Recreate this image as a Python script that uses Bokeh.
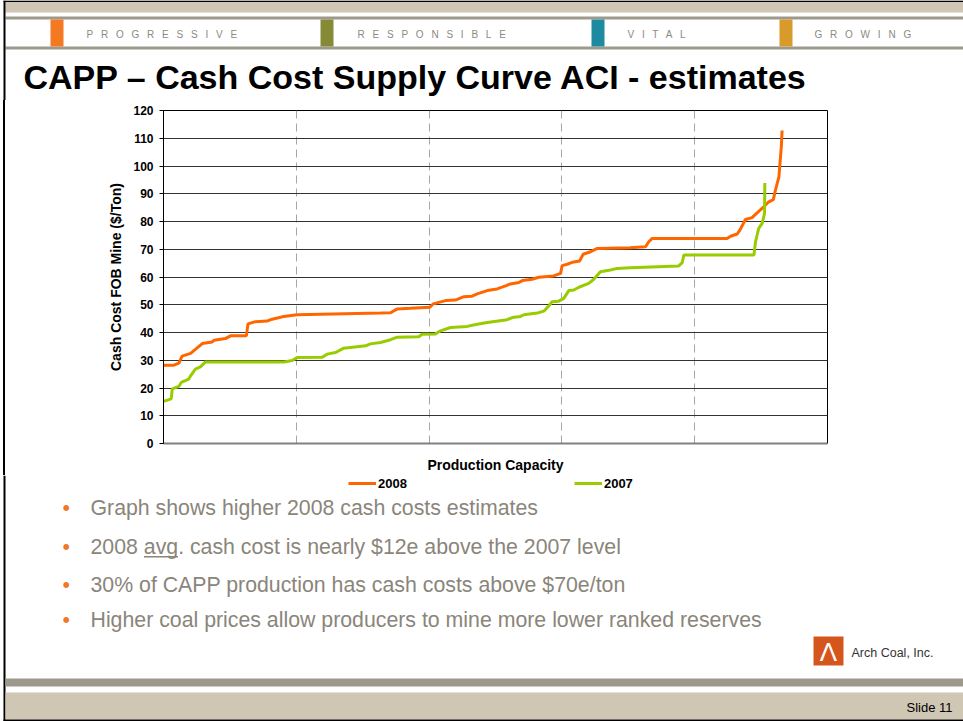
from bokeh.plotting import figure
from bokeh.layouts import column
from bokeh.models import Legend, LegendItem, FixedTicker, Range1d
from bokeh.core.properties import value
from bokeh.embed import file_html
from bokeh.resources import INLINE

# ---------------- data ----------------
x_2008 = [0, 3.9, 5.8, 7.0, 10.2, 12.0, 14.6, 18.3, 19.0, 23.3, 25.2, 31.2, 31.8, 34.6, 39.0,
          40.9, 44.1, 45.3, 50.3, 81.7, 85.5, 88.0, 93.0, 100.3, 101.5, 106.2, 109.9, 113.1,
          116.2, 118.1, 121.9, 125.6, 128.8, 130.6, 133.8, 135.1, 138.8, 141.3, 146.9, 149.5,
          150.1, 152.0, 153.9, 156.7, 158.0, 160.8, 163.3, 175.6, 181.5, 182.7, 184.0, 212.2,
          213.5, 216.0, 217.0, 219.1, 221.6, 223.5, 226.0, 227.9, 229.6, 230.4, 231.7, 232.0,
          232.6, 232.9]
y_2008 = [28.2, 28.2, 29.0, 31.5, 32.5, 33.9, 36.0, 36.6, 37.2, 37.8, 38.8, 38.8, 43.1, 43.9, 44.1,
          44.8, 45.5, 45.8, 46.4, 47.0, 47.1, 48.5, 48.7, 49.1, 50.3, 51.5, 51.7, 52.9,
          53.1, 53.9, 55.1, 55.7, 56.8, 57.5, 58.0, 58.7, 59.2, 59.9, 60.4, 61.3,
          64.1, 64.6, 65.3, 65.8, 68.2, 69.1, 70.3, 70.5, 70.9, 72.7, 73.9, 73.9,
          74.7, 75.5, 76.9, 80.7, 81.4, 83.1, 85.3, 87.1, 87.9, 91.3, 96.1, 99.7,
          106.8, 112.8]
x_2007 = [0, 2.9, 3.3, 5.8, 6.7, 9.5, 10.2, 12.0, 13.9, 15.8, 45.3, 48.5, 50.3, 59.8, 61.6,
          64.8, 67.7, 70.4, 76.1, 77.9, 81.7, 85.5, 88.0, 96.1, 97.4, 102.4, 104.3, 108.1,
          114.3, 118.1, 121.9, 129.4, 131.3, 134.4, 135.7, 140.7, 143.4, 145.1, 146.3, 148.8,
          150.7, 152.6, 154.5, 156.4, 160.1, 162.0, 164.5, 168.3, 170.8, 175.8, 194.0, 195.3,
          195.9, 222.3, 222.9, 224.1, 225.4, 226.3, 226.4]
y_2007 = [15.2, 16.1, 19.7, 20.6, 22.0, 23.2, 24.4, 26.8, 27.6, 29.4, 29.4, 29.9, 31.0, 31.1, 32.2,
          32.8, 34.3, 34.6, 35.2, 35.9, 36.4, 37.4, 38.3, 38.5, 39.4, 39.5, 40.6, 41.8,
          42.2, 43.0, 43.6, 44.6, 45.4, 45.8, 46.4, 47.0, 47.8, 49.6, 51.1, 51.3,
          52.3, 55.1, 55.3, 56.3, 57.7, 59.2, 61.9, 62.5, 63.1, 63.3, 64.0, 65.2,
          67.9, 67.9, 72.7, 77.5, 79.3, 82.9, 93.9]
series_labels = ["2008", "2007"]
series_colors = ["#FF6600", "#99CC00"]
y_ticks = [0, 10, 20, 30, 40, 50, 60, 70, 80, 90, 100, 110, 120]
x_grid_ticks = [50, 100, 150, 200]
x_max = 250
y_max = 120

slide_title = "CAPP \u2013 Cash Cost Supply Curve ACI - estimates"
y_title = "Cash Cost FOB Mine ($/Ton)"
x_title = "Production Capacity"
header_words = ["PROGRESSIVE", "RESPONSIBLE", "VITAL", "GROWING"]
bullets = [
    "Graph shows higher 2008 cash costs estimates",
    "2008 avg. cash cost is nearly $12e above the 2007 level",
    "30% of CAPP production has cash costs above $70e/ton",
    "Higher coal prices allow producers to mine more lower ranked reserves",
]
company = "Arch Coal, Inc."
slide_no = "Slide 11"

# ---------------- layout (reference pixel coords) ----------------
W, H = 963, 721
TOP_H = 100          # header strip: y 0..100
CHART_B = 475        # chart strip: y 100..475, footer: 475..721
FL, FT, FR, FB = 163, 110, 827, 444
FONT = "Liberation Sans"
TAN = "#CFC6B4"
GREY = "#9D9A8D"
BORDER = "#000000"
BX0, BX1 = 3, 5      # left black border


def deco_fig(w, h, y0):
    f = figure(width=w, height=h, output_backend="svg", toolbar_location=None,
               x_range=Range1d(0, w), y_range=Range1d(y0 + h, y0),
               x_axis_location=None, y_axis_location=None,
               min_border=0, min_border_left=0, min_border_right=0,
               min_border_top=0, min_border_bottom=0)
    f.frame_align = False
    f.grid.visible = False
    f.outline_line_color = None
    f.background_fill_color = "white"
    f.border_fill_color = "white"
    return f


def rect(f, l, t, r, b, color):
    f.quad(left=[l], right=[r], top=[t], bottom=[b], fill_color=color, line_color=None)


def txt(f, x, y, s, size, color="black", bold=False, align="left"):
    f.text(x=[x], y=[y], text=[s], text_font=value(FONT), text_font_size=value(size),
           text_color=color, text_font_style="bold" if bold else "normal",
           text_align=align, text_baseline="middle")


# ---- header ----
top = deco_fig(W, TOP_H, 0)
rect(top, BX1, 0, W, 12, TAN)
rect(top, BX1, 16, W, 19, GREY)
rect(top, BX1, 46, W, 49, GREY)
rect(top, BX0, 0, BX1, TOP_H, BORDER)
rect(top, BX0, 0, W, 1.5, BORDER)
sq_colors = ["#F47920", "#868A37", "#1E8AA0", "#D89A2B"]
sq_x = [50, 320, 591, 779]
txt_x = [86, 357, 627, 814]
for c, qx, tx, w in zip(sq_colors, sq_x, txt_x, header_words):
    rect(top, qx, 19, qx + 13, 46, c)
    txt(top, tx, 34, "\u2002 ".join(list(w)), "10px", color="#8C8A80")
txt(top, 23, 76, slide_title, "34px", bold=True)

# ---- chart ----
CH = CHART_B - TOP_H
p = figure(width=W, height=CH, output_backend="svg", toolbar_location=None,
           x_range=Range1d(0, x_max), y_range=Range1d(0, y_max),
           min_border_left=FL, min_border_right=W - FR,
           min_border_top=FT - TOP_H, min_border_bottom=CHART_B - FB)
p.frame_align = False
p.background_fill_color = "white"
p.border_fill_color = "white"
p.border_fill_alpha = 0
p.styles = {"background": "linear-gradient(to right, white %dpx, black %dpx, black %dpx, white %dpx)"
                          % (BX0, BX0, BX1, BX1)}
p.outline_line_color = "black"
p.outline_line_width = 1

p.yaxis.ticker = FixedTicker(ticks=y_ticks)
p.yaxis.major_label_text_font = FONT
p.yaxis.major_label_text_font_size = "12px"
p.yaxis.major_label_text_font_style = "bold"
p.yaxis.major_label_text_color = "black"
p.yaxis.major_tick_out = 4
p.yaxis.major_tick_in = 0
p.yaxis.minor_tick_line_color = None
p.yaxis.axis_line_color = "black"
p.yaxis.major_label_standoff = 6
p.yaxis.axis_label = y_title
p.yaxis.axis_label_text_font = FONT
p.yaxis.axis_label_text_font_size = "14px"
p.yaxis.axis_label_text_font_style = "bold"
p.yaxis.axis_label_text_color = "black"
p.yaxis.axis_label_standoff = 6

# x axis: no tick labels in the reference, only the axis line and its title
p.xaxis.ticker = FixedTicker(ticks=[])
p.xaxis.major_label_standoff = 0
p.xaxis.major_tick_out = 0
p.xaxis.major_tick_line_color = None
p.xaxis.minor_tick_line_color = None
p.xaxis.axis_line_color = "#808080"
p.xaxis.axis_line_width = 2
p.xaxis.axis_label = x_title
p.xaxis.axis_label_text_font = FONT
p.xaxis.axis_label_text_font_size = "14px"
p.xaxis.axis_label_text_font_style = "bold"
p.xaxis.axis_label_text_color = "black"
p.xaxis.axis_label_standoff = 13

p.ygrid.ticker = FixedTicker(ticks=y_ticks)
p.ygrid.grid_line_color = "#333333"
p.ygrid.grid_line_width = 1
p.xgrid.ticker = FixedTicker(ticks=x_grid_ticks)
p.xgrid.grid_line_color = "#a6a6a6"
p.xgrid.grid_line_dash = "8 5"

p.line(x_2008, y_2008, line_color=series_colors[0], line_width=3)
p.line(x_2007, y_2007, line_color=series_colors[1], line_width=3)

# ---- footer ----
FOOT_H = H - CHART_B
bot = deco_fig(W, FOOT_H, CHART_B)
rect(bot, BX0, CHART_B, BX1, H, BORDER)

# legend keys of the chart series (placed just under the chart's axis title);
# their key lines sit outside the visible range, only the legend glyphs show
k08 = bot.line(x=[-50, -40], y=[-50, -50], line_color=series_colors[0], line_width=3)
k07 = bot.line(x=[-50, -40], y=[-50, -50], line_color=series_colors[1], line_width=3)
legend = Legend(items=[LegendItem(label=series_labels[0], renderers=[k08]),
                       LegendItem(label=series_labels[1], renderers=[k07])],
                orientation="horizontal", location=(348, H - 491),
                glyph_width=28, glyph_height=16, label_standoff=2, spacing=167,
                padding=0, margin=0, border_line_color=None, background_fill_alpha=0,
                label_text_font=FONT, label_text_font_size="13px",
                label_text_font_style="bold", label_text_color="black")
bot.add_layout(legend)

BUL_Y = [507, 546, 584, 619]
BUL_SIZE = "21.3px"
for by, t in zip(BUL_Y, bullets):
    txt(bot, 62, by, "\u2022", BUL_SIZE, color="#F07822")
    txt(bot, 90, by, t, BUL_SIZE, color="#8A857A")
rect(bot, 143.5, 555.5, 177.5, 557, "#8A857A")

rect(bot, 813, 636, 843, 665, "#D4561C")
txt(bot, 828, 651, "\u039b", "26px", color="white", align="center")
txt(bot, 851, 652, company, "12.5px", color="#333333")

rect(bot, BX1, 678, W, 686, GREY)
rect(bot, BX1, 692, W, 719, TAN)
rect(bot, BX0, 719, W, 721, BORDER)
txt(bot, 952, 707, slide_no, "13px", color="black", align="right")

layout = column(top, p, bot, spacing=0)
open("out.html", "w").write(file_html(layout, INLINE))
